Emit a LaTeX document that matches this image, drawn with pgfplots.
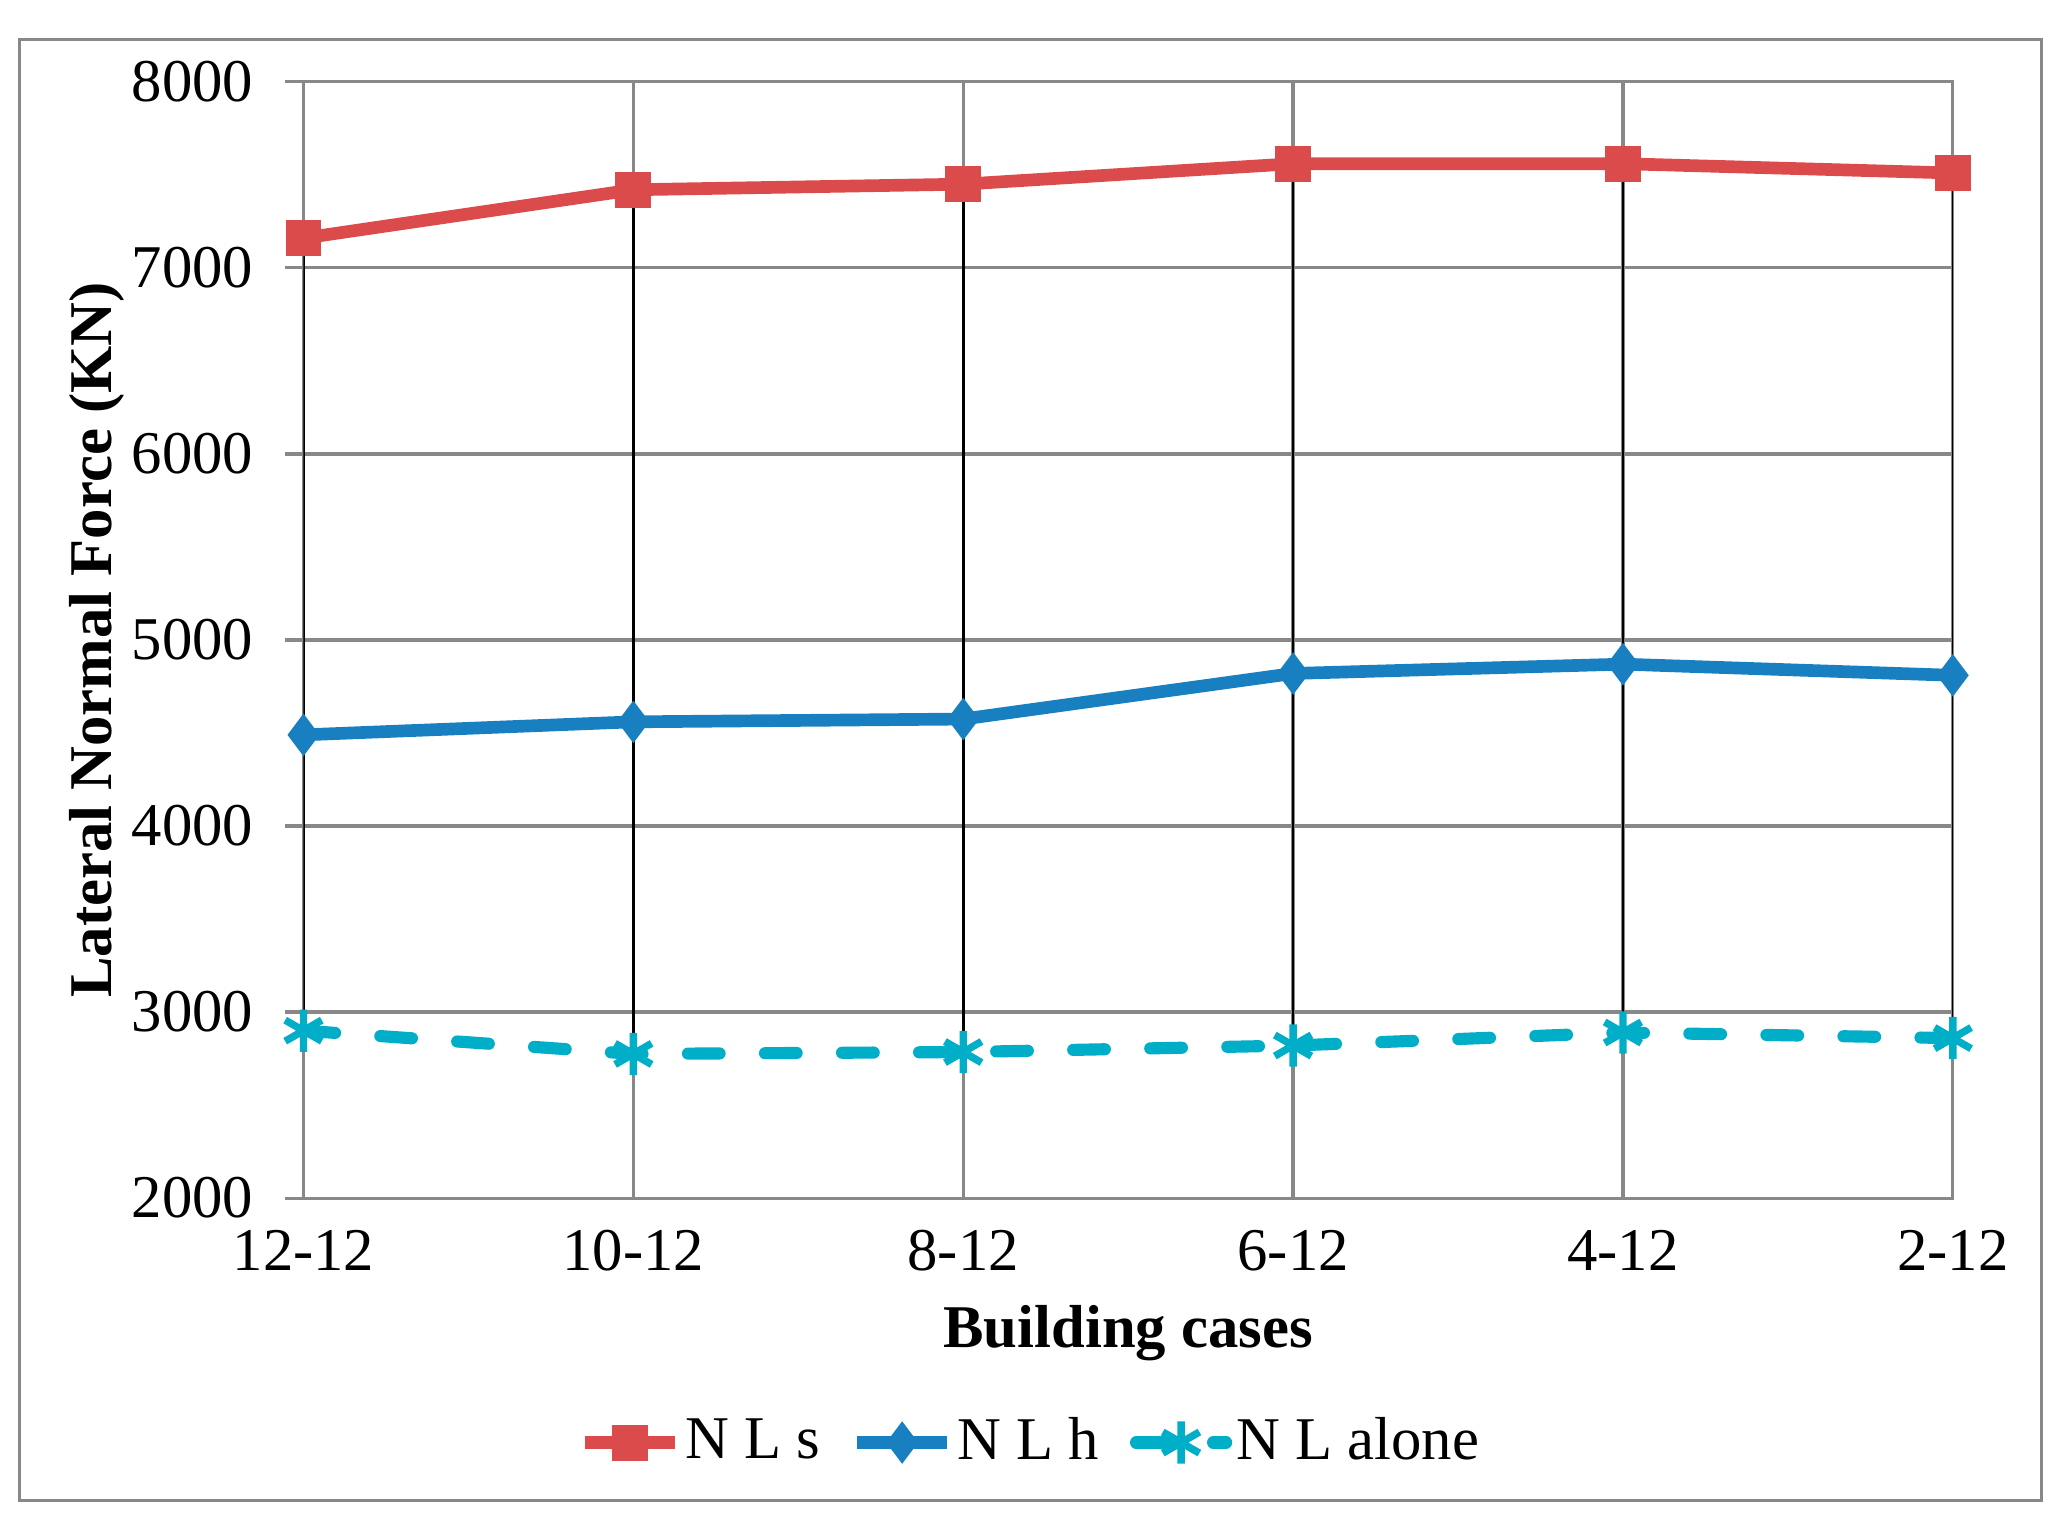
\documentclass[border=0pt]{standalone}
\usepackage{fontspec}
\setmainfont{Liberation Serif}
\usepackage{pgfplots}
\pgfplotsset{compat=1.18}
\definecolor{cRed}{RGB}{220,75,75}
\definecolor{cBlue}{RGB}{24,128,192}
\definecolor{cCyan}{RGB}{0,174,200}
\definecolor{cGrid}{RGB}{136,136,136}
\begin{document}
\begin{tikzpicture}
\path[use as bounding box] (-57.5pt,-60.5pt) rectangle (333pt,227pt);
\draw[cGrid, line width=0.6pt] (-53.75pt,-57.25pt) rectangle (329.25pt,219.5pt);
\begin{axis}[
  at={(0pt,0pt)}, anchor=south west,
  scale only axis, width=312.5pt, height=211.5pt,
  xmin=0, xmax=5, ymin=2000, ymax=8000,
  xtick={0,1,2,3,4,5},
  xticklabels={12-12,10-12,8-12,6-12,4-12,2-12},
  ytick={2000,3000,4000,5000,6000,7000,8000},
  /pgf/number format/assume math mode=true,
  /pgf/number format/1000 sep={},
  grid=major,
  grid style={cGrid, line width=0.6pt},
  axis line style={cGrid, line width=0.6pt},
  tick style={cGrid, line width=0.6pt},
  tick align=outside,
  major tick length=3.5pt,
  xtick style={/pgfplots/major tick length=0pt},
  ytick pos=left, xtick pos=bottom,
  ticklabel style={font=\fontsize{11.5}{13}\selectfont, text=black},
  yticklabel style={xshift=-2.5pt},
  xticklabel style={yshift=1pt},
  xlabel={\textbf{Building cases}},
  ylabel={\textbf{Lateral Normal Force (KN)}},
  xlabel style={at={(axis description cs:0.5,-0.1206)}, anchor=center, font=\fontsize{11.5}{13}\selectfont},
  ylabel style={at={(axis description cs:-0.1255,0.5)}, anchor=center, font=\fontsize{11.5}{13}\selectfont},
  legend style={at={(0.441,-0.219)}, anchor=center, draw=none, fill=none,
    font=\fontsize{11.5}{13}\selectfont, legend columns=3,
    nodes={inner xsep=0.8pt},
    /tikz/every even column/.append style={column sep=5pt}},
  legend cell align=left,
]
\addplot[cRed, line width=2.4pt, mark=square*, mark size=3.2pt, mark options={solid, line width=0.4pt}]
  coordinates {(0,7160) (1,7420) (2,7450) (3,7560) (4,7560) (5,7510)};
\addlegendentry{N L s}
\addplot[cBlue, line width=2.4pt, mark=diamond*, mark size=3.7pt, mark options={solid, line width=0.4pt}]
  coordinates {(0,4490) (1,4560) (2,4575) (3,4820) (4,4870) (5,4810)};
\addlegendentry{N L h}
\addplot[cCyan, line width=2.3pt, dash pattern=on 6pt off 8.6pt, line cap=round, mark=asterisk, mark size=4pt, mark options={solid, line width=1.4pt, line cap=butt}]
  coordinates {(0,2900) (1,2775) (2,2785) (3,2820) (4,2890) (5,2860)};
\addlegendentry{N L alone}
\addplot[black, line width=0.5pt, mark=none, forget plot, unbounded coords=jump]
  coordinates {(0,2900) (0,7160) (0,nan) (1,2775) (1,7420) (1,nan) (2,2785) (2,7450) (2,nan)
               (3,2820) (3,7560) (3,nan) (4,2890) (4,7560) (4,nan) (5,2860) (5,7510)};
\end{axis}
\end{tikzpicture}
\end{document}
